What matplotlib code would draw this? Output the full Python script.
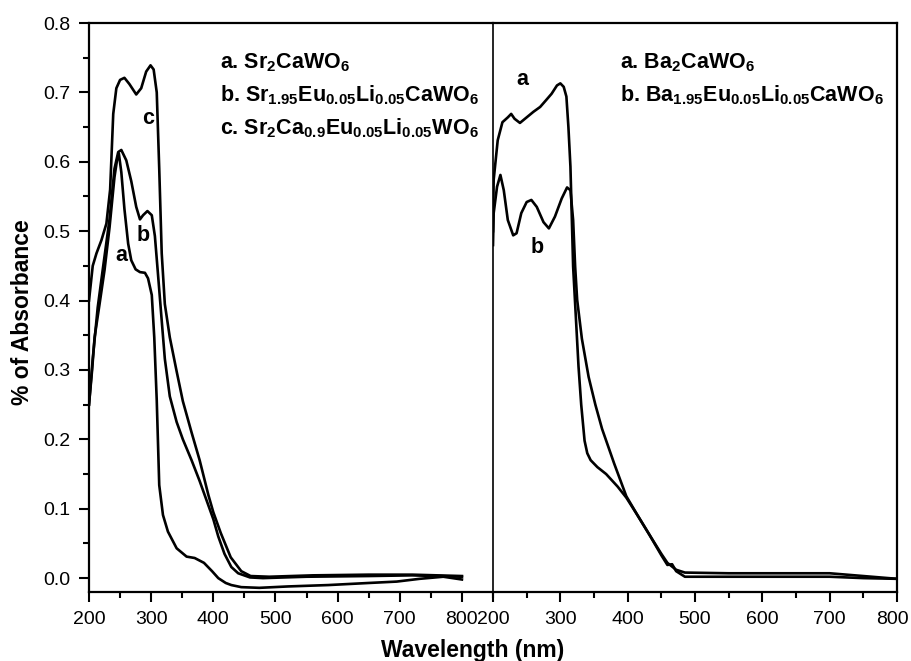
import matplotlib
matplotlib.use("Agg")
import matplotlib.pyplot as plt
from matplotlib.ticker import MultipleLocator
from matplotlib.transforms import ScaledTranslation

plt.rcParams['font.family'] = ['Liberation Sans', 'DejaVu Sans']
plt.rcParams['mathtext.default'] = 'regular'

# left panel: Sr2CaWO6 series (wavelength nm, absorbance)
sr_a_x = [200, 205, 209, 217, 225, 233, 241, 245, 248, 252, 257, 263, 268, 275, 282,
          290, 295, 301, 305, 309, 313, 319, 327, 341, 357, 370, 385, 398, 408, 420,
          429, 445, 474, 520, 585, 650, 695, 732, 770, 800]
sr_a_y = [0.25, 0.30, 0.347, 0.395, 0.444, 0.505, 0.578, 0.602, 0.612, 0.585, 0.532, 0.482, 0.458, 0.445, 0.441,
          0.44, 0.432, 0.408, 0.347, 0.256, 0.134, 0.091, 0.067, 0.043, 0.031, 0.029, 0.022, 0.01, 0.0, -0.007,
          -0.01, -0.013, -0.014, -0.012, -0.01, -0.007, -0.005, -0.001, 0.002, -0.002]

sr_b_x = [200, 206, 214, 222, 233, 241, 247, 252, 260, 268, 276, 282, 287, 294, 301,
          306, 311, 317, 322, 330, 341, 351, 365, 378, 392, 400, 408, 418, 429, 440,
          459, 480, 550, 650, 720, 800]
sr_b_y = [0.25, 0.316, 0.39, 0.444, 0.517, 0.59, 0.614, 0.617, 0.602, 0.572, 0.535, 0.517, 0.523, 0.529, 0.523,
          0.493, 0.438, 0.371, 0.316, 0.262, 0.225, 0.2, 0.17, 0.14, 0.105, 0.085, 0.06, 0.035, 0.016, 0.007,
          0.001, 0.0, 0.002, 0.003, 0.004, 0.002]

sr_c_x = [200, 206, 212, 220, 228, 234, 239, 244, 250, 257, 265, 276, 284, 292, 299,
          304, 309, 313, 317, 322, 330, 341, 351, 365, 378, 392, 400, 412, 428, 445,
          460, 490, 560, 650, 720, 800]
sr_c_y = [0.40, 0.45, 0.468, 0.487, 0.511, 0.56, 0.669, 0.706, 0.718, 0.721, 0.712, 0.697, 0.706, 0.730, 0.739,
          0.733, 0.70, 0.59, 0.468, 0.395, 0.347, 0.298, 0.255, 0.21, 0.17, 0.12, 0.095, 0.065, 0.03, 0.01,
          0.003, 0.002, 0.004, 0.005, 0.005, 0.003]

# right panel: Ba2CaWO6 series
ba_a_x = [200, 201, 207, 214, 222, 227, 232, 240, 250, 260, 270, 279, 287, 295, 300,
          305, 309, 312, 315, 317, 319, 323, 327, 331, 336, 340, 345, 355, 368, 385,
          398, 415, 432, 450, 459, 466, 472, 485, 550, 650, 700, 750, 800]
ba_a_y = [0.50, 0.574, 0.631, 0.657, 0.664, 0.669, 0.662, 0.656, 0.664, 0.672, 0.679, 0.689, 0.698, 0.710, 0.713,
          0.708, 0.694, 0.650, 0.593, 0.521, 0.449, 0.377, 0.305, 0.25, 0.198, 0.18, 0.17, 0.16, 0.15, 0.132,
          0.116, 0.09, 0.063, 0.033, 0.019, 0.02, 0.01, 0.002, 0.002, 0.002, 0.002, 0.0, -0.001]

ba_b_x = [200, 201, 206, 211, 216, 222, 230, 235, 242, 250, 257, 265, 275, 283, 292,
          302, 310, 315, 319, 322, 325, 332, 342, 352, 362, 380, 398, 415, 432, 450,
          459, 472, 485, 550, 650, 700, 750, 800]
ba_b_y = [0.48, 0.526, 0.564, 0.581, 0.559, 0.516, 0.494, 0.497, 0.526, 0.542, 0.545, 0.535, 0.513, 0.504, 0.521,
          0.547, 0.563, 0.559, 0.516, 0.449, 0.401, 0.345, 0.29, 0.25, 0.215, 0.165, 0.118, 0.09, 0.063, 0.035,
          0.022, 0.012, 0.008, 0.007, 0.007, 0.007, 0.003, -0.001]

x_major = [200, 300, 400, 500, 600, 700, 800]
y_major = [0.0, 0.1, 0.2, 0.3, 0.4, 0.5, 0.6, 0.7, 0.8]

fig = plt.figure(figsize=(9.11, 6.61), dpi=100)
W, H = 911.0, 661.0
ax1 = fig.add_axes([89 / W, 1 - 592 / H, 404 / W, 569 / H])
ax2 = fig.add_axes([493 / W, 1 - 592 / H, 404 / W, 569 / H])

lw = 1.9
ax1.plot(sr_a_x, sr_a_y, color='black', lw=lw)
ax1.plot(sr_b_x, sr_b_y, color='black', lw=lw)
ax1.plot(sr_c_x, sr_c_y, color='black', lw=lw)
ax2.plot(ba_a_x, ba_a_y, color='black', lw=lw)
ax2.plot(ba_b_x, ba_b_y, color='black', lw=lw)

ax1.set_xlim(200, 850)
ax2.set_xlim(200, 800)
for ax in (ax1, ax2):
    ax.set_ylim(-0.02, 0.8)
    ax.set_xticks(x_major)
    ax.xaxis.set_minor_locator(MultipleLocator(50))
    for s in ax.spines.values():
        s.set_linewidth(1.6)
    ax.tick_params(axis='x', which='major', direction='out', length=7.5, width=1.5,
                   labelsize=14, pad=6)
    ax.tick_params(axis='x', which='minor', direction='out', length=4, width=1.5)
    ax.tick_params(top=False, right=False)

ax1.set_yticks(y_major)
ax1.set_yticklabels(['%.1f' % v for v in y_major])
ax1.yaxis.set_minor_locator(MultipleLocator(0.05))
ax1.tick_params(axis='y', which='major', direction='out', length=7.5, width=1.5,
                labelsize=14, pad=6)
ax1.tick_params(axis='y', which='minor', direction='out', length=4, width=1.5)
ax1.spines['right'].set_visible(False)
ax2.spines['left'].set_linewidth(1.2)
ax2.tick_params(axis='y', which='both', left=False, labelleft=False)

fs = 15.5
ax1.text(0.324, 0.921, 'a. Sr$_2$CaWO$_6$', transform=ax1.transAxes,
         fontsize=fs, fontweight='bold', va='baseline')
ax1.text(0.324, 0.863, 'b. Sr$_{1.95}$Eu$_{0.05}$Li$_{0.05}$CaWO$_6$', transform=ax1.transAxes,
         fontsize=fs, fontweight='bold', va='baseline')
ax1.text(0.324, 0.805, 'c. Sr$_2$Ca$_{0.9}$Eu$_{0.05}$Li$_{0.05}$WO$_6$', transform=ax1.transAxes,
         fontsize=fs, fontweight='bold', va='baseline')
ax2.text(0.314, 0.921, 'a. Ba$_2$CaWO$_6$', transform=ax2.transAxes,
         fontsize=fs, fontweight='bold', va='baseline')
ax2.text(0.314, 0.863, 'b. Ba$_{1.95}$Eu$_{0.05}$Li$_{0.05}$CaWO$_6$', transform=ax2.transAxes,
         fontsize=fs, fontweight='bold', va='baseline')

ax1.text(0.146, 0.833, 'c', transform=ax1.transAxes, fontsize=fs, fontweight='bold',
         ha='center', va='center')
ax1.text(0.134, 0.626, 'b', transform=ax1.transAxes, fontsize=fs, fontweight='bold',
         ha='center', va='center')
ax1.text(0.079, 0.592, 'a', transform=ax1.transAxes, fontsize=fs, fontweight='bold',
         ha='center', va='center')
ax2.text(0.072, 0.900, 'a', transform=ax2.transAxes, fontsize=fs, fontweight='bold',
         ha='center', va='center')
ax2.text(0.109, 0.605, 'b', transform=ax2.transAxes, fontsize=fs, fontweight='bold',
         ha='center', va='center')

fig.text(473 / W, 1 - 657 / H, 'Wavelength (nm)', fontsize=16.5, fontweight='bold',
         ha='center', va='baseline')
fig.text(23 / W, 1 - 312 / H, '% of Absorbance', fontsize=16.5, fontweight='bold',
         ha='center', va='center', rotation=90)

# nudge the last tick label of the right panel so it stays inside the figure
fig.canvas.draw()
last = ax2.get_xticklabels()[-1]
last.set_transform(last.get_transform() + ScaledTranslation(-5 / 100, 0, fig.dpi_scale_trans))

fig.savefig('out.png', dpi=100)
